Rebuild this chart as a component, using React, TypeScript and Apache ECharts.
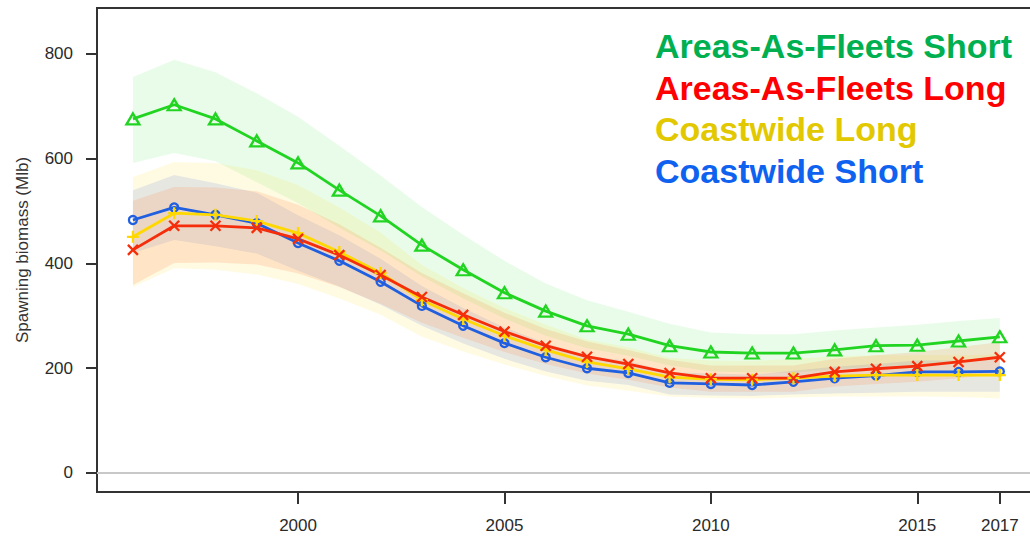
import React, { useEffect, useRef } from "react";
import * as echarts from "echarts";

const years = [1996, 1997, 1998, 1999, 2000, 2001, 2002, 2003, 2004, 2005, 2006, 2007, 2008, 2009, 2010, 2011, 2012, 2013, 2014, 2015, 2016, 2017];

// Areas-As-Fleets Short (green)
const aafShort = [676, 703, 676, 634, 592, 540, 491, 435, 388, 344, 309, 281, 265, 243, 231, 229, 229, 235, 243, 244, 252, 260];
const aafShortHi = [756, 789, 765, 725, 680, 625, 568, 508, 455, 405, 362, 330, 308, 285, 268, 265, 265, 272, 278, 283, 290, 296];
const aafShortLo = [592, 611, 595, 555, 515, 468, 425, 375, 333, 295, 262, 238, 224, 205, 194, 192, 192, 198, 204, 206, 213, 222];

// Areas-As-Fleets Long (red)
const aafLong = [426, 472, 472, 468, 447, 416, 378, 336, 302, 270, 243, 222, 208, 191, 181, 181, 181, 193, 199, 204, 212, 221];
const aafLongHi = [520, 546, 545, 538, 512, 475, 430, 382, 343, 306, 275, 251, 235, 216, 205, 205, 205, 218, 225, 231, 240, 250];
const aafLongLo = [359, 401, 402, 398, 381, 355, 323, 287, 258, 231, 208, 190, 178, 163, 155, 155, 155, 165, 170, 174, 181, 189];

// Coastwide Long (yellow)
const cwLong = [451, 496, 493, 481, 458, 422, 382, 330, 294, 262, 235, 212, 199, 183, 179, 178, 181, 185, 187, 187, 187, 187];
const cwLongHi = [565, 594, 592, 578, 550, 507, 459, 397, 353, 315, 283, 255, 240, 220, 215, 214, 218, 223, 225, 225, 225, 226];
const cwLongLo = [355, 391, 388, 379, 361, 333, 302, 260, 232, 207, 185, 167, 157, 146, 143, 142, 144, 146, 146, 146, 145, 142];

// Coastwide Short (blue)
const cwShort = [483, 507, 493, 477, 439, 405, 365, 319, 281, 248, 221, 200, 191, 172, 170, 168, 174, 181, 186, 193, 193, 194];
const cwShortHi = [540, 569, 553, 535, 492, 454, 409, 357, 315, 278, 248, 224, 214, 193, 190, 188, 195, 203, 208, 215, 215, 216];
const cwShortLo = [420, 445, 433, 419, 386, 356, 321, 281, 247, 218, 194, 176, 168, 150, 148, 147, 150, 152, 153, 155, 155, 155];

const yTicks = [0, 200, 400, 600, 800];
const xTicks = [2000, 2005, 2010, 2015, 2017];

const legendItems = [
  { text: "Areas-As-Fleets Short", color: "#00b050" },
  { text: "Areas-As-Fleets Long", color: "#ff0000" },
  { text: "Coastwide Long", color: "#e2c800" },
  { text: "Coastwide Short", color: "#0f62f0" },
];

const FONT = '"Liberation Sans", Arial, sans-serif';

function bandSeries(lo: number[], hi: number[], color: string) {
  return {
    type: "custom",
    silent: true,
    z: 1,
    data: years.map((y, i) => [y, lo[i], hi[i]]),
    encode: { x: 0, y: [1, 2] },
    renderItem: (params: any, api: any) => {
      if (params.dataIndex !== 0) return null;
      const upper = years.map((y, i) => api.coord([y, hi[i]]));
      const lower = years.map((y, i) => api.coord([y, lo[i]])).reverse();
      return {
        type: "polygon",
        shape: { points: upper.concat(lower) },
        style: { fill: color },
      };
    },
  };
}

function lineSeries(values: number[], color: string, symbol: string, size: any) {
  return {
    type: "line",
    data: years.map((y, i) => [y, values[i]]),
    symbol,
    symbolSize: size,
    showAllSymbol: true,
    lineStyle: { color, width: 2.8 },
    itemStyle: { color: "rgba(255,255,255,0)", borderColor: color, borderWidth: 2.3 },
    z: 5,
  };
}

export default function App() {
  const ref = useRef<HTMLDivElement>(null);
  useEffect(() => {
    if (!ref.current) return;
    const chart = echarts.init(ref.current, null, { renderer: "svg" });
    const option: any = {
      animation: false,
      backgroundColor: "#fff",
      grid: {
        left: 97,
        top: 8,
        width: 947,
        height: 484,
        show: true,
        borderColor: "#333",
        borderWidth: 2,
        backgroundColor: "transparent",
      },
      xAxis: {
        type: "value",
        min: 1995.13,
        max: 2018.07,
        splitLine: { show: false },
        axisLine: { show: true, onZero: false, lineStyle: { color: "#333", width: 2 } },
        axisTick: { show: true, length: 12, customValues: xTicks, lineStyle: { color: "#333", width: 2 } },
        axisLabel: {
          customValues: xTicks,
          margin: 25,
          color: "#2a2a2a",
          fontSize: 17,
          fontFamily: FONT,
          formatter: (v: number) => String(v),
        },
      },
      yAxis: {
        type: "value",
        min: -36.3,
        max: 887.8,
        splitLine: { show: false },
        axisLine: { show: true, onZero: false, lineStyle: { color: "#333", width: 2 } },
        axisTick: { show: true, length: 11, customValues: yTicks, lineStyle: { color: "#333", width: 2 } },
        axisLabel: {
          customValues: yTicks,
          margin: 24,
          color: "#2a2a2a",
          fontSize: 17,
          fontFamily: FONT,
          formatter: (v: number) => String(v),
        },
      },
      graphic: [
        {
          type: "text",
          x: 22,
          y: 250,
          rotation: Math.PI / 2,
          style: {
            text: "Spawning biomass (Mlb)",
            fill: "#333",
            font: `17px ${FONT}`,
            align: "center",
            verticalAlign: "middle",
          },
        },
        ...legendItems.map((it, i) => ({
          type: "text",
          x: 655,
          y: 46 + i * 41.5,
          z: 100,
          style: {
            text: it.text,
            fill: it.color,
            font: `bold 34px ${FONT}`,
            align: "left",
            verticalAlign: "middle",
          },
        })),
      ],
      series: [
        bandSeries(aafShortLo, aafShortHi, "rgba(0,215,0,0.085)"),
        bandSeries(cwLongLo, cwLongHi, "rgba(255,215,0,0.11)"),
        bandSeries(cwShortLo, cwShortHi, "rgba(70,100,220,0.13)"),
        bandSeries(aafLongLo, aafLongHi, "rgba(255,120,50,0.16)"),
        {
          type: "line",
          data: [],
          silent: true,
          markLine: {
            silent: true,
            symbol: "none",
            label: { show: false },
            lineStyle: { color: "#c8c8c8", width: 2, type: "solid" },
            data: [{ yAxis: 0 }],
          },
        },
        lineSeries(cwShort, "#1f5fe0", "circle", 8),
        lineSeries(cwLong, "#ffd800", "path://M5,0L5,10M0,5L10,5", 12),
        lineSeries(aafLong, "#f52d0a", "path://M0,0L10,10M10,0L0,10", 10),
        lineSeries(aafShort, "#22d422", "path://M5,0L10,9L0,9Z", [13, 11]),
      ],
    };
    chart.setOption(option);
    return () => chart.dispose();
  }, []);
  return (
    <div style={{ position: "fixed", left: 0, top: 0, width: 1030, height: 538, overflow: "hidden", background: "#fff" }}>
      <div ref={ref} style={{ width: 1045, height: 538 }} />
    </div>
  );
}
